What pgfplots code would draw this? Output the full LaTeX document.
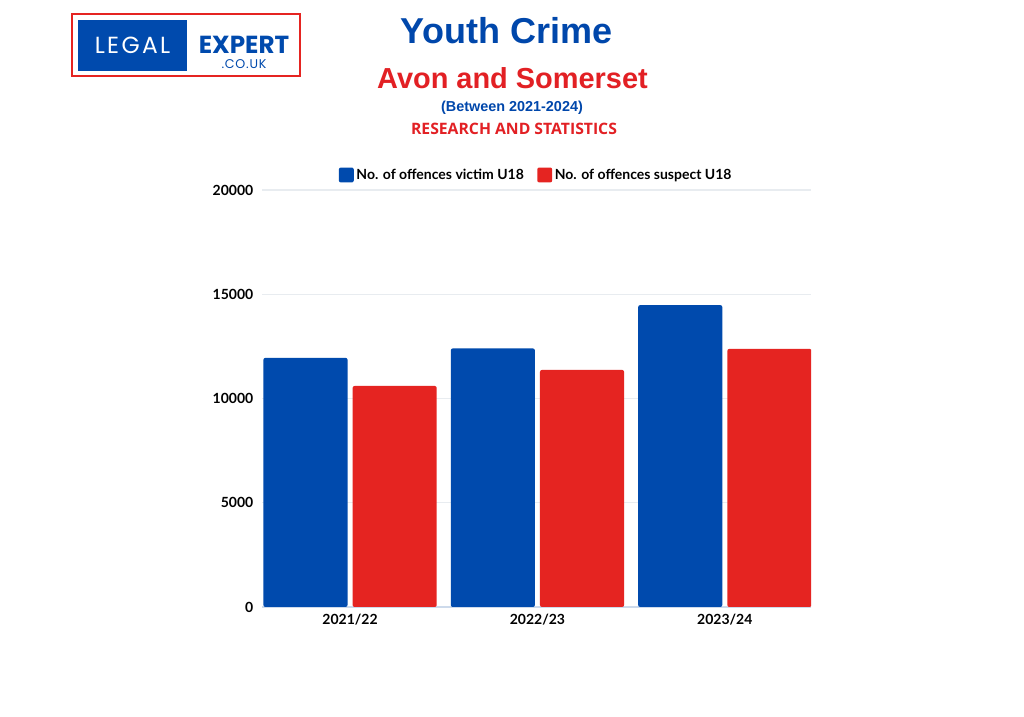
\documentclass[border=0pt]{standalone}
\usepackage{fontspec}
\setmainfont{Lato}
\newfontfamily\arialfont{Liberation Sans}
\newfontfamily\opensans{Open Sans}
\newfontfamily\poppins{Poppins}
\usepackage{pgfplots}
\pgfplotsset{compat=1.18}
\definecolor{barblue}{RGB}{0,74,173}
\definecolor{barred}{RGB}{229,36,33}
\definecolor{titleblue}{RGB}{0,71,171}
\definecolor{titlered}{RGB}{226,32,36}
\definecolor{gridc}{RGB}{232,236,240}
\definecolor{axisc}{RGB}{205,218,235}
\begin{document}
\begin{tikzpicture}[x=0.75pt,y=0.75pt]
\path[use as bounding box, fill=white] (0,0) rectangle (1024,717);
% logo
\draw[draw=barred, line width=1.4pt] (72,703) rectangle (300,641);
\fill[barblue] (78,697) rectangle (187,646);
\node[text=white, inner sep=0pt] at (132.5,671.5) {\poppins\addfontfeature{LetterSpace=10}\fontsize{17.5}{19}\selectfont LEGAL};
\node[text=barblue, inner sep=0pt] at (244,672) {\poppins\bfseries\fontsize{18.5}{20}\selectfont EXPERT};
\node[text=barblue, inner sep=0pt] at (244,653) {\poppins\addfontfeature{LetterSpace=6}\fontsize{9.5}{10}\selectfont .CO.UK};
% titles
\node[anchor=base, text=titleblue, inner sep=0pt] at (506.5,673) {\arialfont\bfseries\fontsize{27}{30}\selectfont Youth Crime};
\node[anchor=base, text=titlered, inner sep=0pt] at (512.5,628) {\arialfont\bfseries\fontsize{21.7}{24}\selectfont Avon and Somerset};
\node[anchor=base, text=titleblue, inner sep=0pt] at (512,605) {\arialfont\bfseries\fontsize{10.8}{12}\selectfont (Between 2021-2024)};
\node[anchor=base, text=titlered, inner sep=0pt] at (514,582) {\opensans\bfseries\fontsize{11.8}{13}\selectfont RESEARCH AND STATISTICS};
\begin{axis}[
  at={(196.5pt,82.5pt)}, anchor=south west,
  scale only axis, width=411.75pt, height=312.75pt,
  xmin=-0.47, xmax=2.46, ymin=0, ymax=20000,
  xtick={0,1,2}, xticklabels={2021/22,2022/23,2023/24},
  ytick={0,5000,10000,15000,20000},
  scaled y ticks=false,
  ymajorgrids, grid style={gridc, line width=0.8pt},
  axis x line*=bottom, axis y line*=left,
  y axis line style={draw=none},
  x axis line style={draw=axisc, line width=0.8pt},
  major tick length=0pt,
  tick label style={font=\bfseries\fontsize{10.5}{12}\selectfont, text=black},
  /pgf/number format/.cd, 1000 sep={}, assume math mode=true, /pgfplots/.cd,
  yticklabel style={xshift=-3pt},
  xticklabel style={yshift=-2pt},
  ybar, bar width=0.449,
  legend columns=2,
  legend style={at={(0.5,1.036)}, anchor=center, draw=none, fill=none,
    font=\bfseries\fontsize{10.5}{12}\selectfont,
    /tikz/every even column/.append style={column sep=8pt},
    inner sep=0pt},
  legend image code/.code={\fill[#1] (0pt,-5.6pt) rectangle (11.2pt,5.6pt);},
]
\addplot[fill=barblue, draw=none, bar shift=-0.238, rounded corners=1.5pt] coordinates {(0,11950) (1,12400) (2,14480)};
\addplot[fill=barred, draw=none, bar shift=0.238, rounded corners=1.5pt] coordinates {(0,10600) (1,11370) (2,12380)};
\legend{No. of offences victim U18, No. of offences suspect U18}
\end{axis}
\end{tikzpicture}
\end{document}
